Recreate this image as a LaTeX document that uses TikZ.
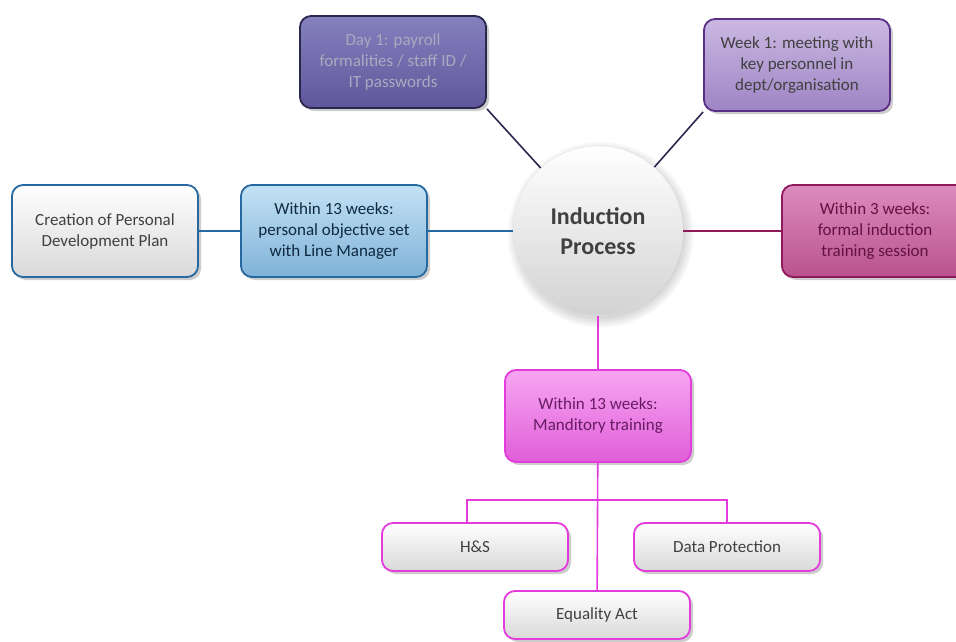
\documentclass[tikz,border=0pt]{standalone}
\usepackage{fontspec}
\setmainfont{Carlito}
\usetikzlibrary{shadows}

% Colours picked from the chart
\definecolor{navyline}{HTML}{2B2850}
\definecolor{dayfill}{HTML}{8580BE}
\definecolor{daydark}{HTML}{5F579A}
\definecolor{daytext}{HTML}{ABA9C0}
\definecolor{weekfill}{HTML}{CBB8E2}
\definecolor{weekdark}{HTML}{9E84C4}
\definecolor{weekline}{HTML}{5A2F86}
\definecolor{pinkfill}{HTML}{DC8CBE}
\definecolor{pinkdark}{HTML}{B9528E}
\definecolor{pinkline}{HTML}{8E1A5C}
\definecolor{bluefill}{HTML}{C4E2F4}
\definecolor{bluedark}{HTML}{7FB2D8}
\definecolor{blueline}{HTML}{2569A0}
\definecolor{magfill}{HTML}{F7A6F2}
\definecolor{magdark}{HTML}{E05ED8}
\definecolor{magline}{HTML}{E43CDC}
\definecolor{textgray}{HTML}{404040}

\begin{document}
\begin{tikzpicture}[x=1pt, y=-1pt,
    stepbox/.style={draw, line width=1.8pt, rounded corners=11pt, align=center,
        minimum width=186pt, minimum height=92pt,
        font=\fontsize{17}{21}\selectfont,
        drop shadow={shadow xshift=3pt, shadow yshift=-3pt, opacity=0.4}},
    subbox/.style={stepbox, minimum height=48pt, draw=magline,
        top color=white, bottom color=gray!30, text=textgray},
    link/.style={line width=1.6pt}]

    % Page frame
    \useasboundingbox (0,0) rectangle (956,642);
    \clip (0,0) rectangle (956,642);

    % Centre of the map
    \node[circle, minimum size=170pt, top color=white, bottom color=gray!35,
        draw=gray!20, text=textgray, align=center,
        font=\fontsize{24}{30}\selectfont\bfseries,
        circular drop shadow={shadow xshift=2pt, shadow yshift=-3pt, opacity=0.4}]
        (hub) at (598,231) {Induction\\Process};

    % Steps round the centre
    \node[stepbox, draw=navyline, top color=dayfill, bottom color=daydark, text=daytext]
        (day1) at (393,62) {Day 1: payroll\\formalities / staff ID /\\IT passwords};
    \node[stepbox, draw=weekline, top color=weekfill, bottom color=weekdark, text=textgray]
        (week1) at (797,65) {Week 1: meeting with\\key personnel in\\dept/organisation};
    \node[stepbox, draw=pinkline, top color=pinkfill, bottom color=pinkdark, text=pinkline!70!black]
        (week3) at (875,231) {Within 3 weeks:\\formal induction\\training session};
    \node[stepbox, draw=blueline, top color=bluefill, bottom color=bluedark, text=blueline!40!black]
        (objective) at (334,231) {Within 13 weeks:\\personal objective set\\with Line Manager};
    \node[stepbox, draw=blueline, top color=white, bottom color=gray!30, text=textgray]
        (plan) at (105,231) {Creation of Personal\\Development Plan};
    \node[stepbox, draw=magline, top color=magfill, bottom color=magdark, text=magline!45!black]
        (training) at (598,416) {Within 13 weeks:\\Manditory training};

    % Mandatory training topics
    \foreach \name/\x/\y/\txt in {hs/475/547/H\&S, dataprot/727/547/Data Protection,
        equality/597/615/Equality Act}{
        \node[subbox] (\name) at (\x,\y) {\txt};
    }
    \coordinate (split) at (598,500);

    % Connectors
    \draw[link, navyline] (hub) -- (day1.south east);
    \draw[link, navyline] (hub) -- (week1.south west);
    \draw[link, pinkline] (hub) -- (week3);
    \draw[link, blueline] (hub) -- (objective);
    \draw[link, blueline] (objective) -- (plan);
    \draw[link, magline] (hub) -- (training);
    \draw[link, magline] (training) -- (equality);
    \draw[link, magline] ([xshift=-8pt]hs.north) |- (split) -| (dataprot.north);
\end{tikzpicture}
\end{document}
